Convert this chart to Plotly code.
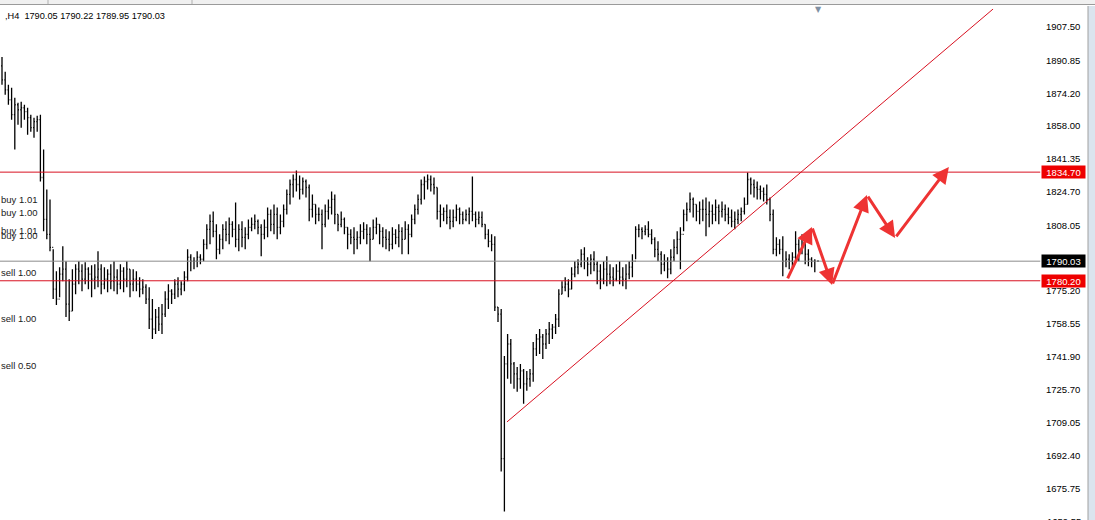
import plotly.graph_objects as go

# ---------------- data (H4 bars) ----------------
highs = [
 1892.5,1885,1878.5,1877,1872,1869.5,1870,1868.5,1867,1863.5,1862,1863,
 1863.5,1846,1826,1821,1796,1785,1787,1797.5,1790,1781,1786,1788.5,
 1790,1788.5,1789.5,1787,1788,1788.5,1795,1788.5,1787,1786,1788.5,1790,1786,1788.5,1787,1790,1786,1786,
 1785,1782,1781,1778.5,1777,1771,1766,1767,1768.5,1775,1778.5,1776,1781,1782,1780,1785,
 1796,1793.5,1792,1795,1793.5,1801,1808.5,1813.5,1815,1808.5,1803.5,1808.5,1810,1812,1810,1819.5,
 1808.5,1810,1807,1811,1812,1813.5,1811,1808.5,1811,1817,1816,1818.5,1817,1813.5,
 1818.5,1826,1831,1833.5,1835.5,1833,1832,1831,1828.5,1823.5,1818.5,1817,1816,1818.5,1821,1825,
 1823.5,1813.5,1815,1812,1807,1806,1807,1805,1808.5,1809.5,1808.5,1807,1811,1812,1808.5,1807,
 1806,1805,1807,1806,1808.5,1807,1810,1808.5,1813.5,1818.5,1823.5,
 1831,1832.5,1833.5,1833,1832,1827,1818.5,1817,1818.5,1816,1816,1818.5,1817,1815,1816,1817,1832.5,1815,1815,
 1815,1808.5,1806,1803.5,1802.5,1767,1766,1742.5,1753.5,1751,1739.5,1737,1738.5,1736,1735,1736,1749.5,1753.5,1756,1753.5,1756,1759.5,1758.5,1763.5,1776,
 1780,1782,1781,1787,1790,1791,1796,1797,1792,1793.5,1795,1790,1788.5,1790,1792.5,1788.5,1787,1788.5,1790,1787,1788.5,1790,1793.5,
 1807.5,1808.5,1807,1808,1810,1806,1802,1800,1795,1793.5,1792,1796,1801,1805,1807,1816,1819.5,1824.5,1822,1818.5,1820,
 1821,1822,1820,1818.5,1821,1818.5,1820,1818.5,1817,1816,1815,1816,1817,1822,1834.5,1832,1831,1830,1828,1827,
 1828.5,1822,1816,1802,1801,1802.5,1795,1793.5,1794.5,1805,1801,1803.5,1802,1796,1792,1791,
 1790.22,
]
lows = [
 1878.5,1873.5,1868.5,1861,1846,1858.5,1857,1861,1853.5,1855,1852,1855,
 1830,1805,1801,1795,1771,1768,1772,1780,1762,1760,1765,1773.5,
 1778.5,1775,1778.5,1776,1772,1776,1777,1773.5,1776,1774.5,1776,1775,1773.5,1776,1774.5,1777,1772,1775,
 1775,1772,1773.5,1768.5,1756,1751,1753.5,1755,1753.5,1762,1766,1768.5,1771,1772,1773,1775,
 1780,1785,1786,1787,1788.5,1790,1796,1798.5,1802,1791,1793.5,1796,1800,1798.5,1802,1797,
 1795,1797,1796,1801,1805,1806,1803.5,1792.5,1801,1802,1805,1803.5,1801,1803.5,
 1807,1813.5,1818.5,1822,1825,1821,1823.5,1822,1810,1812,1808.5,1810,1796,1807,1811,1813.5,
 1808.5,1805,1807,1803.5,1796,1798.5,1793.5,1796,1798.5,1801,1798.5,1790,1801,1803.5,1798.5,1797,
 1796,1795,1796,1798.5,1797,1793.5,1801,1793.5,1802,1808.5,1813.5,
 1818.5,1821,1826,1825,1823.5,1811,1807,1810,1808.5,1806,1807,1810,1808.5,1808.5,1810,1808.5,1810,1807,1808.5,
 1807,1801,1797,1795,1765,1759.5,1684.5,1664.5,1731,1728.5,1726,1724.5,1726,1718.5,1725,1727,1729.5,1742.5,1743.5,1741,1746,1748.5,1751,1753.5,1757,
 1773.5,1775,1772,1776,1782,1783.5,1787,1786,1782.5,1783.5,1785,1778.5,1776,1778.5,1777.5,1778.5,1777.5,1780,1778.5,1777.5,1776,1781,1782,
 1791,1802,1801,1803,1802,1798.5,1792,1790,1783.5,1785,1781.5,1783.5,1790,1793.5,1786,1805,1810,1814.5,1812,1810,1808.5,
 1810,1802.5,1807,1808.5,1810,1808.5,1812,1810,1808.5,1807,1806,1808.5,1810,1813.5,1818.5,1823.5,1822,1821,1821,1820,
 1818.5,1810,1793.5,1792.5,1793.5,1782.5,1787,1786,1787,1789.5,1790,1793.5,1788.5,1787.5,1787,1784.5,
 1789.95,
]
closes = [
 1881,1876,1871,1863.5,1868.5,1866,1867,1865,1862,1857,1860,1861,
 1832,1811,1803.5,1797,1776,1771,1783.5,1786,1768.5,1765,1778.5,1786,
 1785,1781,1786,1783.5,1781,1782,1786,1778.5,1781,1783.5,1780,1782,1778.5,1785,1781,1786,1778.5,1781,
 1778.5,1776,1777,1771,1761,1756,1762,1758.5,1763.5,1771,1775,1773.5,1778.5,1776,1778.5,1782,
 1792,1790,1790,1792,1791,1798.5,1806,1810,1805,1796,1801,1806,1803.5,1808.5,1806,1801,
 1806,1802,1803.5,1807,1808.5,1810,1807,1803.5,1807,1813.5,1808.5,1813.5,1807,1810,
 1816,1823.5,1828.5,1831,1828.5,1826,1830,1827,1816,1818.5,1813.5,1813.5,1808.5,1815,1817,1821,
 1813.5,1808.5,1811,1807,1803.5,1802,1801,1802,1805,1806,1803.5,1801,1807,1808.5,1805,1802,
 1801,1798.5,1803.5,1802,1805,1801,1806,1803.5,1811,1816,1821,
 1828.5,1830,1831,1828.5,1827,1815,1813.5,1815,1812,1810,1812,1816,1813.5,1811,1813.5,1815,1813.5,1811,1812,
 1808.5,1803.5,1800,1798.5,1767,1763.5,1691,1738.5,1748.5,1738.5,1733.5,1731,1735,1728.5,1731,1733.5,1746,1751,1752,1748.5,1753.5,1756,1757,1761,1773.5,
 1777,1778.5,1776,1783.5,1787,1788.5,1793.5,1790,1788.5,1791,1788.5,1785,1781,1786,1783.5,1782,1781,1785,1782,1781,1783.5,1787,1790,
 1806,1806,1805,1806,1803.5,1801,1796,1793.5,1788.5,1790,1786,1792,1797,1801,1803.5,1813.5,1816,1821,1818.5,1815,1816,
 1816,1813.5,1815,1813.5,1817,1815,1816,1813.5,1812,1810,1811,1813.5,1815,1818.5,1831,1828.5,1827,1826,1825,1823.5,
 1821,1813.5,1796,1798.5,1796,1790,1791,1790,1792,1798.5,1796,1798.5,1793.5,1791,1790,1790.05,
 1790.03,
]
first_open = 1888.0
opens = [first_open] + closes[:-1]
bar_index = list(range(len(closes)))

header_text = ",H4  1790.05 1790.22 1789.95 1790.03"
tick_prices = [1907.50, 1890.85, 1874.20, 1858.00, 1841.35, 1824.70, 1808.05,
               1775.20, 1758.55, 1741.90, 1725.70, 1709.05, 1692.40, 1675.75]
resistance = 1834.70
support = 1780.20
last_price = 1790.03
trend_pts = [(157.8, 1709.4), (309.7, 1916.5)]
# forecast zigzag (bar index, price)
zigzag = [(245.3, 1780.6), (253.1, 1807.2), (259.4, 1778.1), (270.3, 1823.2),
          (279.1, 1801.7), (295.9, 1837.3)]
order_labels = [("buy 1.01", 1821.2), ("buy 1.00", 1814.7), ("buy 1.01", 1805.2),
                ("buy 1.00", 1802.7), ("sell 1.00", 1784.6), ("sell 1.00", 1761.5),
                ("sell 0.50", 1737.5)]

FONT = "Liberation Sans"
W, H = 1095, 520
ML, MR, MT, MB = 0, 63, 6, 0
PW = W - ML - MR
PH = H - MT - MB

fig = go.Figure()
fig.add_trace(go.Ohlc(
    x=bar_index, open=opens, high=highs, low=lows, close=closes,
    increasing=dict(line=dict(color="#000000", width=1.3)),
    decreasing=dict(line=dict(color="#000000", width=1.3)),
    tickwidth=0.3, hoverinfo="skip", showlegend=False,
))

shapes = []
for lvl in (resistance, support):
    shapes.append(dict(type="line", xref="paper", yref="y", x0=0, x1=1.008,
                       y0=lvl, y1=lvl, line=dict(color="#d81020", width=1)))
shapes.append(dict(type="line", xref="paper", yref="y", x0=0, x1=1.008,
                   y0=last_price, y1=last_price, line=dict(color="#8c8c8c", width=1)))
shapes.append(dict(type="line", xref="x", yref="y",
                   x0=trend_pts[0][0], y0=trend_pts[0][1],
                   x1=trend_pts[1][0], y1=trend_pts[1][1],
                   line=dict(color="#d81020", width=1)))
# toolbar strip at top
shapes.append(dict(type="rect", xref="paper", yref="paper", x0=0, x1=W / PW,
                   y0=1 + 1 / PH, y1=1 + MT / PH, fillcolor="#f0f0f0", line=dict(width=0)))
shapes.append(dict(type="line", xref="paper", yref="paper", x0=0, x1=W / PW,
                   y0=1 + 1.5 / PH, y1=1 + 1.5 / PH, line=dict(color="#9a9a9a", width=1)))
for px in (48, 192):
    shapes.append(dict(type="line", xref="paper", yref="paper", x0=px / PW, x1=px / PW,
                       y0=1 + 2 / PH, y1=1 + MT / PH, line=dict(color="#b0b0b0", width=1)))
# right window border
shapes.append(dict(type="rect", xref="paper", yref="paper", x0=1088 / PW, x1=W / PW,
                   y0=0, y1=1, fillcolor="#dbe4ee", line=dict(width=0)))
shapes.append(dict(type="line", xref="paper", yref="paper", x0=1088 / PW, x1=1088 / PW,
                   y0=0, y1=1, line=dict(color="#a0a0a0", width=1)))

annotations = []
for (x0, y0), (x1, y1) in zip(zigzag[:-1], zigzag[1:]):
    annotations.append(dict(x=x1, y=y1, ax=x0, ay=y0, xref="x", yref="y",
                            axref="x", ayref="y", text="", showarrow=True,
                            arrowhead=2, arrowsize=1.1, arrowwidth=3,
                            arrowcolor="#ee3333", standoff=0, startstandoff=0))
annotations.append(dict(text=header_text, xref="paper", yref="paper", x=3 / PW,
                        y=1 - (16 - MT) / PH, xanchor="left", yanchor="middle",
                        showarrow=False, font=dict(family=FONT, size=9.2, color="#000000")))
for txt, price in order_labels:
    annotations.append(dict(text=txt, xref="paper", yref="y", x=0, y=price,
                            xanchor="left", yanchor="middle", xshift=-1, showarrow=False,
                            font=dict(family=FONT, size=9.5, color="#1a1a1a")))
for price, bg in ((resistance, "#ee0000"), (support, "#ee0000"), (last_price, "#000000")):
    annotations.append(dict(text=f"{price:.2f}", xref="paper", yref="y", x=1, y=price,
                            xanchor="left", yanchor="middle", xshift=9, showarrow=False,
                            bgcolor=bg, width=42, height=11, borderpad=0.5, align="center",
                            font=dict(family=FONT, size=9.5, color="#ffffff")))
annotations.append(dict(text="1659.55", xref="paper", yref="paper", x=1, y=1 - (521 - MT) / PH,
                        xanchor="left", yanchor="middle", xshift=13, showarrow=False,
                        font=dict(family=FONT, size=9.5, color="#000000")))
annotations.append(dict(text="▼", xref="paper", yref="paper", x=818 / PW, y=1 - (10 - MT) / PH,
                        xanchor="center", yanchor="middle", showarrow=False,
                        font=dict(family="DejaVu Sans", size=8, color="#7f90a2")))

y_top = 1921.04 - 0.5016 * MT
y_bot = 1921.04 - 0.5016 * H
x_left = (0 - 2) / 3.2
x_right = (PW - 2) / 3.2

fig.update_layout(
    width=W, height=H, margin=dict(l=ML, r=MR, t=MT, b=MB, autoexpand=False),
    paper_bgcolor="#ffffff", plot_bgcolor="#ffffff",
    showlegend=False, shapes=shapes, annotations=annotations,
    xaxis=dict(range=[x_left, x_right], visible=False, rangeslider=dict(visible=False),
               showgrid=False, zeroline=False),
    yaxis=dict(range=[y_bot, y_top], side="right", showgrid=False, zeroline=False,
               automargin=False,
               tickmode="array", tickvals=tick_prices,
               ticktext=[f"{v:.2f}" for v in tick_prices],
               ticks="", ticklabelstandoff=13,
               showline=False,
               tickfont=dict(family=FONT, size=9.5, color="#000000")),
)

fig.write_html("out.html", config={"displayModeBar": False, "staticPlot": True},
               post_script="document.body.style.margin='0';document.body.style.overflow='hidden';")
